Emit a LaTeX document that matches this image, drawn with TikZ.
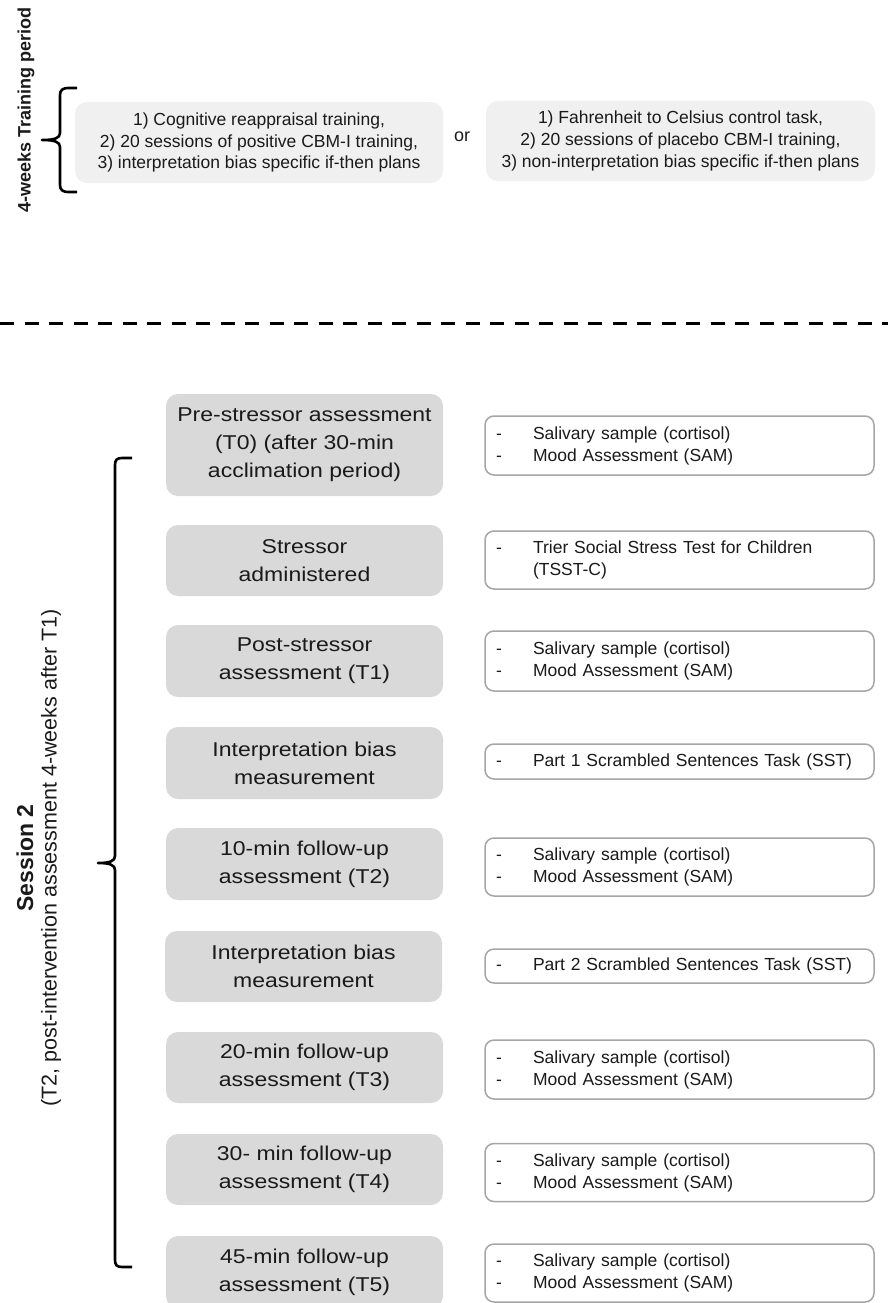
\documentclass[tikz,border=0pt]{standalone}
\usepackage{fontspec}
\setmainfont{Liberation Sans}
\newfontfamily\grayfont[FakeStretch=1.15]{Liberation Sans}
\definecolor{txt}{HTML}{1A1A1A}
\definecolor{grayfill}{HTML}{D9D9D9}
\definecolor{lightfill}{HTML}{F0F0F0}
\definecolor{rborder}{HTML}{A6A6A6}
\newcommand\dashitem[1]{\makebox[37pt][l]{-}#1}
\begin{document}
\begin{tikzpicture}[x=1pt,y=-1pt,
  graybox/.style={fill=grayfill, rounded corners=12pt, minimum width=277pt, inner sep=0pt,
    align=center, text=txt, font=\grayfont\fontsize{20}{28}\selectfont},
  topbox/.style={fill=lightfill, rounded corners=12pt, inner sep=0pt, align=center,
    text=txt, font=\fontsize{17.5}{21.7}\selectfont},
  rbox/.style={draw=rborder, line width=1.5pt, rounded corners=9pt, fill=white,
    minimum width=389pt, text width=367pt, inner xsep=11pt, inner ysep=0pt, align=left,
    text=txt, font=\fontsize{17.5}{22}\selectfont},
  bracestyle/.style={line width=2.6pt, line join=round, draw=black},
  sep/.style={line width=3pt, dash pattern=on 14pt off 10.5pt}
]
\useasboundingbox (0,0) rectangle (888,1303);
\clip (0,0) rectangle (888,1303);

% ---------- top part ----------
\node[rotate=90, text=txt, font=\bfseries\fontsize{18}{20}\selectfont] (tp) at (26,110) {4-weeks Training period};

\draw[bracestyle] (77,88) -- (68,88) .. controls (63,88) and (60,90) .. (60,95) -- (60,133)
  .. controls (60,138) and (55,140) .. (42,140) .. controls (55,140) and (60,142) .. (60,147)
  -- (60,185) .. controls (60,190) and (63,192) .. (68,192) -- (77,192);

\node[topbox, minimum width=368pt, minimum height=81pt] (tl) at (259,142.5)
  {1) Cognitive reappraisal training,\\2) 20 sessions of positive CBM-I training,\\3) interpretation bias specific if-then plans};
\node[text=txt, font=\fontsize{18}{20}\selectfont] (or) at (462,137) {or};
\node[topbox, minimum width=389pt, minimum height=80pt] (tr) at (680.5,141)
  {1) Fahrenheit to Celsius control task,\\2) 20 sessions of placebo CBM-I training,\\3) non-interpretation bias specific if-then plans};

% ---------- separator ----------
\coordinate (sepL) at (0,323);
\coordinate (sepR) at (888,323);
\draw[sep] (sepL) -- (sepR);

% ---------- session 2 ----------
\node[rotate=90, text=txt, font=\bfseries\fontsize{23}{26}\selectfont] (s2) at (25,858) {Session 2};
\node[rotate=90, text=txt, font=\fontsize{21.5}{24}\selectfont] (s2b) at (51,858) {(T2, post-intervention assessment 4-weeks after T1)};

\draw[bracestyle] (132,458) -- (122,458) .. controls (117,458) and (115,460) .. (115,465)
  -- (115,856) .. controls (115,861) and (110,863) .. (98,863)
  .. controls (110,863) and (115,865) .. (115,870)
  -- (115,1260) .. controls (115,1265) and (117,1267) .. (122,1267) -- (132,1267);

% gray boxes
\node[graybox, minimum height=102pt] (g1) at (304.5,445) {Pre-stressor assessment\\(T0) (after 30-min\\acclimation period)};
\node[graybox, minimum height=71pt] (g2) at (304.5,560.5) {Stressor\\administered};
\node[graybox, minimum height=72pt] (g3) at (304.5,661) {Post-stressor\\assessment (T1)};
\node[graybox, minimum height=72pt] (g4) at (304.5,763) {Interpretation bias\\measurement};
\node[graybox, minimum height=72pt] (g5) at (304.5,864) {10-min follow-up\\assessment (T2)};
\node[graybox, minimum height=71pt] (g6) at (303.5,966.5) {Interpretation bias\\measurement};
\node[graybox, minimum height=71pt] (g7) at (304.5,1067.5) {20-min follow-up\\assessment (T3)};
\node[graybox, minimum height=71pt] (g8) at (304.5,1169.5) {30- min follow-up\\assessment (T4)};
\node[graybox, minimum height=72pt] (g9) at (304.5,1272) {45-min follow-up\\assessment (T5)};

% right boxes
\node[rbox, minimum height=59pt] (r1) at (679.5,445.5) {\dashitem{Salivary sample (cortisol)}\\\dashitem{Mood Assessment (SAM)}};
\node[rbox, minimum height=58pt] (r2) at (679.5,560) {\dashitem{Trier Social Stress Test for Children}\\\hspace*{37pt}(TSST-C)};
\node[rbox, minimum height=60pt] (r3) at (679.5,661) {\dashitem{Salivary sample (cortisol)}\\\dashitem{Mood Assessment (SAM)}};
\node[rbox, minimum height=35pt] (r4) at (679.5,761.5) {\dashitem{Part 1 Scrambled Sentences Task (SST)}};
\node[rbox, minimum height=58pt] (r5) at (679.5,867) {\dashitem{Salivary sample (cortisol)}\\\dashitem{Mood Assessment (SAM)}};
\node[rbox, minimum height=34pt] (r6) at (679.5,966) {\dashitem{Part 2 Scrambled Sentences Task (SST)}};
\node[rbox, minimum height=59pt] (r7) at (679.5,1069.5) {\dashitem{Salivary sample (cortisol)}\\\dashitem{Mood Assessment (SAM)}};
\node[rbox, minimum height=58pt] (r8) at (679.5,1172.5) {\dashitem{Salivary sample (cortisol)}\\\dashitem{Mood Assessment (SAM)}};
\node[rbox, minimum height=58pt] (r9) at (679.5,1273) {\dashitem{Salivary sample (cortisol)}\\\dashitem{Mood Assessment (SAM)}};
\end{tikzpicture}
\end{document}
